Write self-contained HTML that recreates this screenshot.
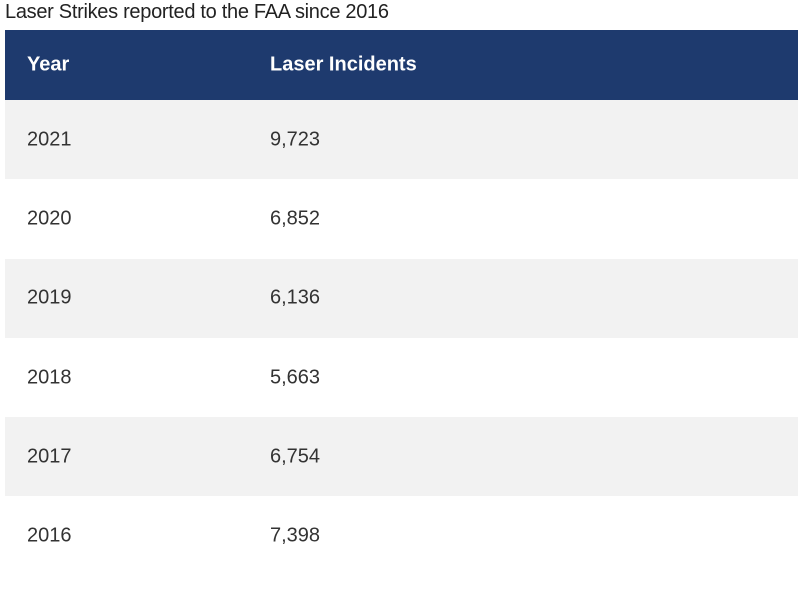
<!DOCTYPE html>
<html><head><meta charset="utf-8"><style>
body{margin:0;width:800px;height:605px;background:#fff;font-family:"Liberation Sans",sans-serif;position:relative;overflow:hidden}
.title{position:absolute;left:5px;top:1px;font-size:20px;color:#222;white-space:nowrap;letter-spacing:-0.3px}
.hdr{position:absolute;left:5px;top:30px;width:793px;height:70px;background:#1e3a6e;color:#fff;font-weight:bold;font-size:20px}
.row{position:absolute;left:5px;width:793px;height:79.3px;font-size:20px;color:#333}
.c1{position:absolute;left:22px;top:50%;transform:translateY(-50%)}
.c2{position:absolute;left:265px;top:50%;transform:translateY(-50%)}
</style></head><body>
<div class="title">Laser Strikes reported to the FAA since 2016</div>
<div class="hdr"><span class="c1">Year</span><span class="c2">Laser Incidents</span></div>
<div id="rows"></div>
<script>
const years=["2021","2020","2019","2018","2017","2016"];
const incidents=["9,723","6,852","6,136","5,663","6,754","7,398"];
const container=document.getElementById('rows');
years.forEach((y,i)=>{
  const r=document.createElement('div');
  r.className='row';
  
  
  r.style.top=(100+i*79.3)+'px';
  r.style.background=i%2===0?'#f2f2f2':'#fff';
  const a=document.createElement('span');a.className='c1';a.textContent=y;
  
  
  const b=document.createElement('span');b.className='c2';b.textContent=incidents[i];
  
  
  r.appendChild(a);r.appendChild(b);container.appendChild(r);
});
</script>
</body></html>
